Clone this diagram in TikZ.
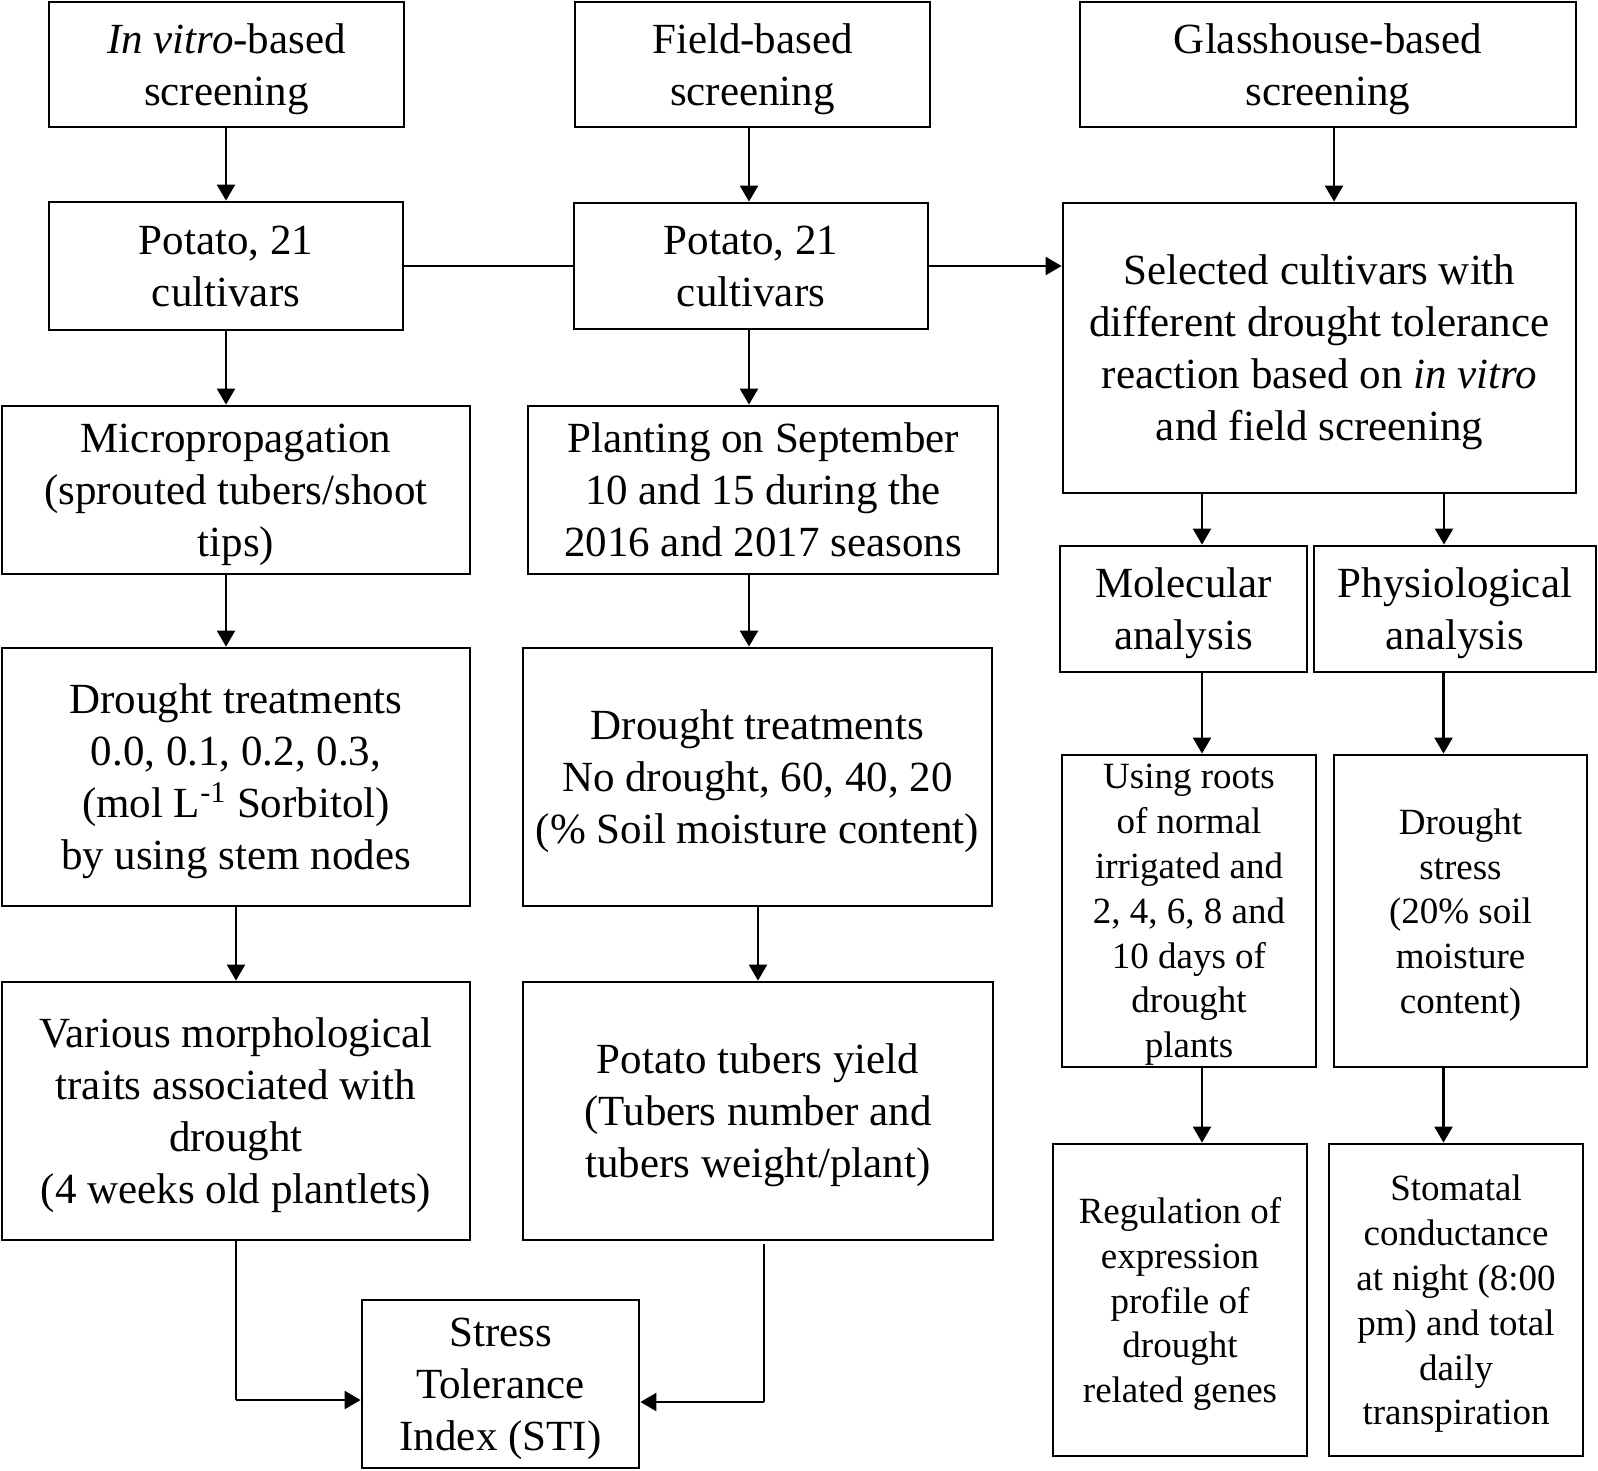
\documentclass[tikz,border=0pt]{standalone}
\usepackage{fontspec}
\setmainfont{Liberation Serif}
\usetikzlibrary{arrows.meta}

\tikzset{
    box/.style={draw, line width=1.4pt, align=center, inner sep=0pt, text depth=-4pt,
        font=\fontsize{21.5}{26}\selectfont},
    smallbox/.style={box, font=\fontsize{18.5}{22.4}\selectfont},
    arr/.style={-{Triangle[length=8pt,width=9pt]}, line width=1.2pt},
    link/.style={line width=0.7pt}
}

\begin{document}
\begin{tikzpicture}[x=0.5pt, y=-0.5pt]

        % Fix the page to the size of the figure
        \useasboundingbox (0,0) rectangle (1598,1470);

        % Top row: the three screening approaches
        \node[box, minimum width=177.5pt, minimum height=62.5pt] (vitro) at (226.5,64.5) {\textit{In vitro}-based\\screening};
        \node[box, minimum width=177.5pt, minimum height=62.5pt] (field) at (752.5,64.5) {Field-based\\screening};
        \node[box, minimum width=248pt, minimum height=62.5pt] (glass) at (1328,64.5) {Glasshouse-based\\screening};

        % In vitro column
        \node[box, minimum width=177pt, minimum height=64pt] (potA) at (226,266) {Potato, 21\\cultivars};
        \node[box, minimum width=234pt, minimum height=84pt] (micro) at (236,490) {Micropropagation\\(sprouted tubers/shoot\\tips)};
        \node[box, minimum width=234pt, minimum height=129pt] (droughtA) at (236,777) {Drought treatments\\0.0, 0.1, 0.2, 0.3,\\(mol L\textsuperscript{-1} Sorbitol)\\by using stem nodes};
        \node[box, minimum width=234pt, minimum height=129pt] (morph) at (236,1111) {Various morphological\\traits associated with\\drought\\(4 weeks old plantlets)};

        % Field column
        \node[box, minimum width=177pt, minimum height=63pt] (potB) at (751,266) {Potato, 21\\cultivars};
        \node[box, minimum width=235pt, minimum height=84pt] (plant) at (763,490) {Planting on September\\10 and 15 during the\\2016 and 2017 seasons};
        \node[box, minimum width=234.5pt, minimum height=129pt] (droughtB) at (757.5,777) {Drought treatments\\No drought, 60, 40, 20\\(\% Soil moisture content)};
        \node[box, minimum width=235pt, minimum height=129pt] (yield) at (758,1111) {Potato tubers yield\\(Tubers number and\\tubers weight/plant)};

        % Index at the bottom
        \node[box, minimum width=138.5pt, minimum height=84pt] (sti) at (500.5,1384) {Stress\\Tolerance\\Index (STI)};

        % Glasshouse column
        \node[box, minimum width=256.5pt, minimum height=145pt] (select) at (1319.5,348) {Selected cultivars with\\different drought tolerance\\reaction based on \textit{in vitro}\\and field screening};
        \node[box, minimum width=123.5pt, minimum height=63pt] (mol) at (1183.5,609) {Molecular\\analysis};
        \node[box, minimum width=141pt, minimum height=63pt] (phys) at (1455,609) {Physiological\\analysis};
        \node[smallbox, minimum width=127pt, minimum height=156pt] (roots) at (1189,911) {Using roots\\of normal\\irrigated and\\2, 4, 6, 8 and\\10 days of\\drought\\plants};
        \node[smallbox, minimum width=126.5pt, minimum height=156pt] (dstress) at (1460.5,911) {Drought\\stress\\(20\% soil\\moisture\\content)};
        \node[smallbox, minimum width=127pt, minimum height=156pt] (regul) at (1180,1300) {Regulation of\\expression\\profile of\\drought\\related genes};
        \node[smallbox, minimum width=127pt, minimum height=156pt] (stomatal) at (1456,1300) {Stomatal\\conductance\\at night (8:00\\pm) and total\\daily\\transpiration};

        % Loop to draw the downward arrows (shift is taken from the lower box)
        \foreach \a/\b/\s in {vitro/potA/0, potA/micro/-5, micro/droughtA/-5, droughtA/morph/0,
                              field/potB/-1, potB/plant/-7, plant/droughtB/-4.25, droughtB/yield/0,
                              glass/select/7.25, select/mol/9.25, select/phys/-5.5,
                              mol/roots/6.5, phys/dstress/-8.5, roots/regul/11, dstress/stomatal/-6.25} {
            \draw[arr] ([xshift=\s pt]\b.north |- \a.south) -- ([xshift=\s pt]\b.north);
        }

        % Links between the two potato boxes and on to the selection
        \draw[link] (potA) -- (potB);
        \draw[arr] (potB.east) -- (potB.east -| select.west);

        % Both columns feed the stress tolerance index
        \coordinate (stiL) at ([yshift=-8pt]sti.west -| morph.south);
        \coordinate (stiR) at ([yshift=-9pt,xshift=3pt]sti.east -| yield.south);
        \draw[link] (morph.south) -- (stiL);
        \draw[arr] (stiL) -- (stiL -| sti.west);
        \draw[link] ([xshift=3pt,yshift=-1.5pt]yield.south) -- (stiR);
        \draw[arr] (stiR) -- (stiR -| sti.east);

    \end{tikzpicture}
\end{document}
